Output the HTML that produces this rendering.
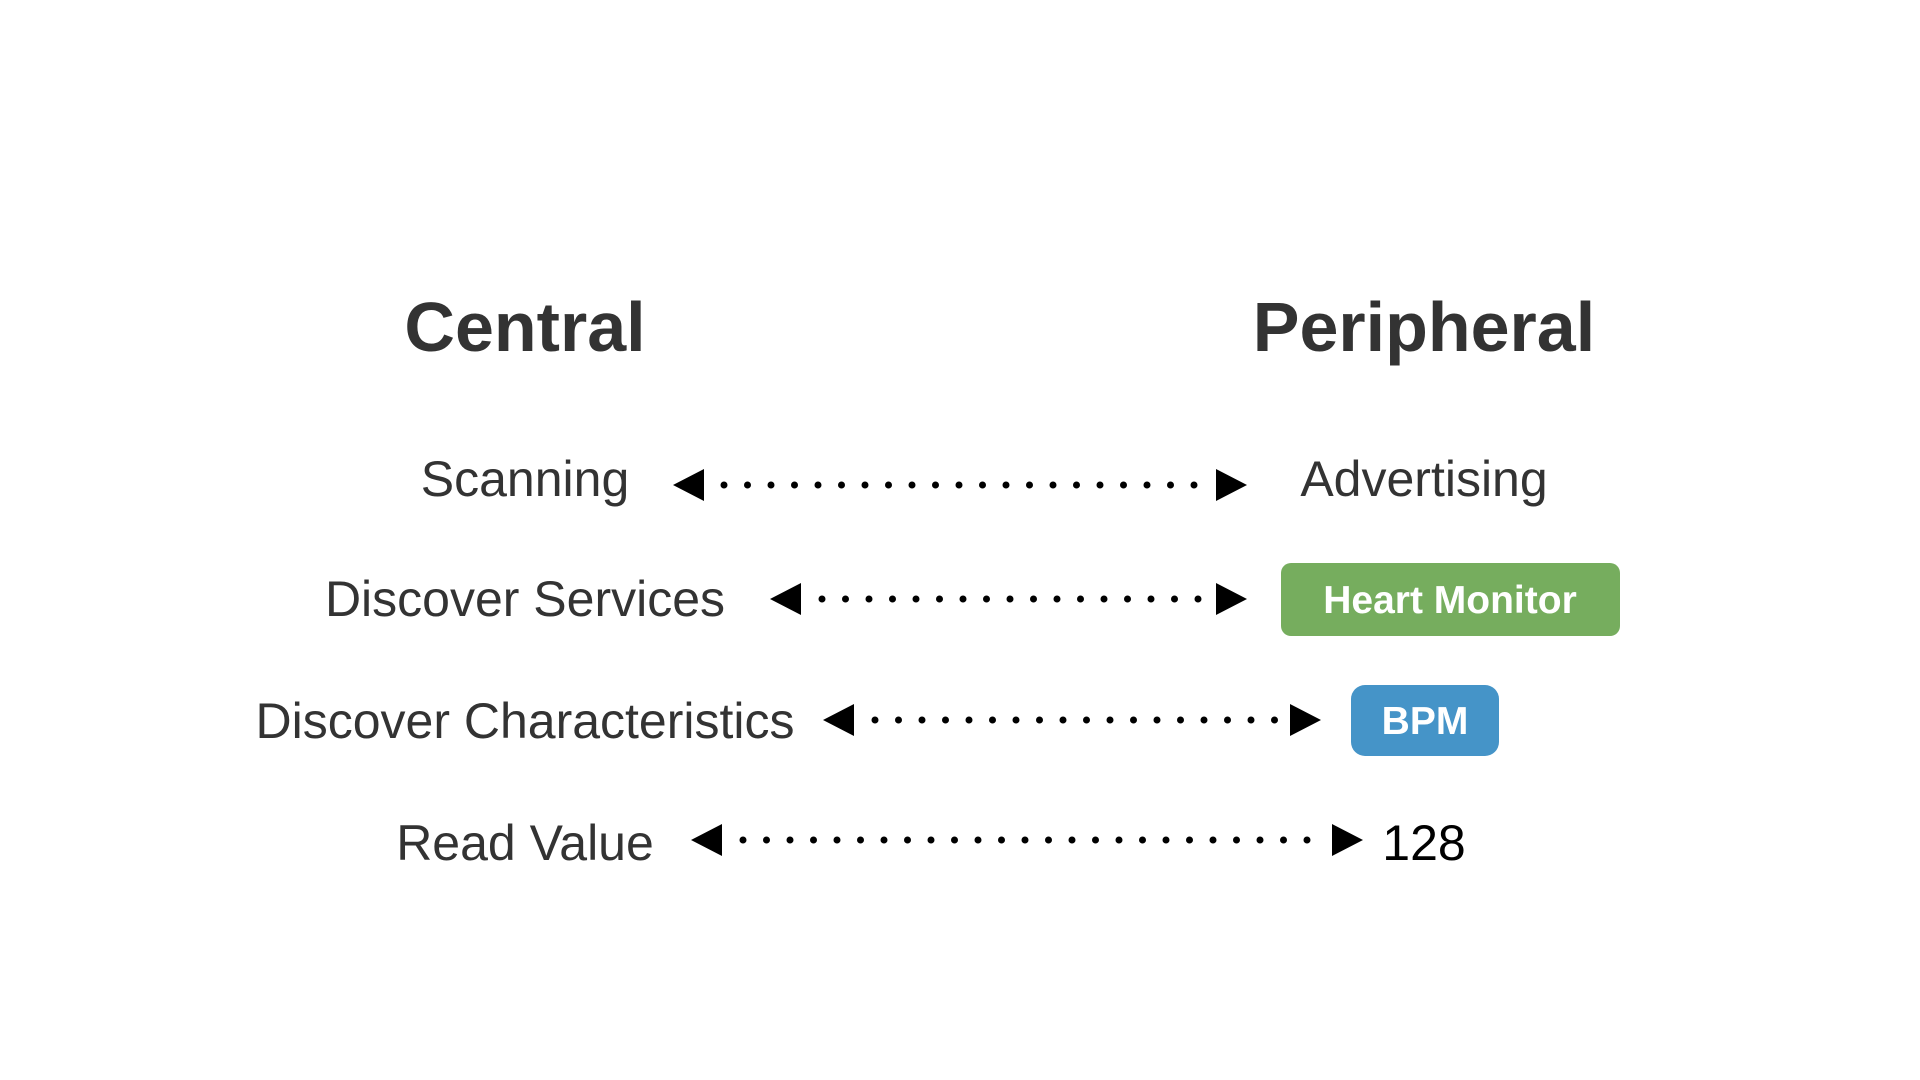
<!DOCTYPE html>
<html><head><meta charset="utf-8"><style>html,body{margin:0;padding:0;background:#fff}svg{display:block}</style></head>
<body>
<svg width="1920" height="1080" viewBox="0 0 1920 1080" xmlns="http://www.w3.org/2000/svg" font-family="Liberation Sans, sans-serif">
<g fill="#333" text-anchor="middle">
<text x="525" y="351" font-size="70" font-weight="bold">Central</text>
<text x="1424" y="351" font-size="70" font-weight="bold">Peripheral</text>
<text x="525" y="496" font-size="50">Scanning</text>
<text x="525" y="616" font-size="50">Discover Services</text>
<text x="525" y="738" font-size="50">Discover Characteristics</text>
<text x="525" y="860" font-size="50">Read Value</text>
<text x="1424" y="496" font-size="50">Advertising</text>
<text x="1424" y="860" font-size="50" fill="#000">128</text>
</g>
<g fill="#000" stroke="#000" stroke-width="7" stroke-linecap="round" stroke-dasharray="0 23.5">
<polygon stroke="none" points="673,485 704,469 704,501"/><polygon stroke="none" points="1247,485 1216,469 1216,501"/>
<line x1="724" y1="485" x2="1205" y2="485"/>
<polygon stroke="none" points="770,599 801,583 801,615"/><polygon stroke="none" points="1247,599 1216,583 1216,615"/>
<line x1="822" y1="599" x2="1205" y2="599"/>
<polygon stroke="none" points="823,720 854,704 854,736"/><polygon stroke="none" points="1321,720 1290,704 1290,736"/>
<line x1="875" y1="720" x2="1280" y2="720"/>
<polygon stroke="none" points="691,840 722,824 722,856"/><polygon stroke="none" points="1363,840 1332,824 1332,856"/>
<line x1="743" y1="840" x2="1322" y2="840"/>
</g>
<rect x="1281" y="563" width="339" height="73" rx="10" fill="#76ad5e"/>
<text x="1450" y="613" font-size="39" font-weight="bold" fill="#fff" text-anchor="middle">Heart Monitor</text>
<rect x="1351" y="685" width="148" height="71" rx="14" fill="#4594c8"/>
<text x="1425" y="734" font-size="39" font-weight="bold" fill="#fff" text-anchor="middle">BPM</text>
</svg>
</body></html>
